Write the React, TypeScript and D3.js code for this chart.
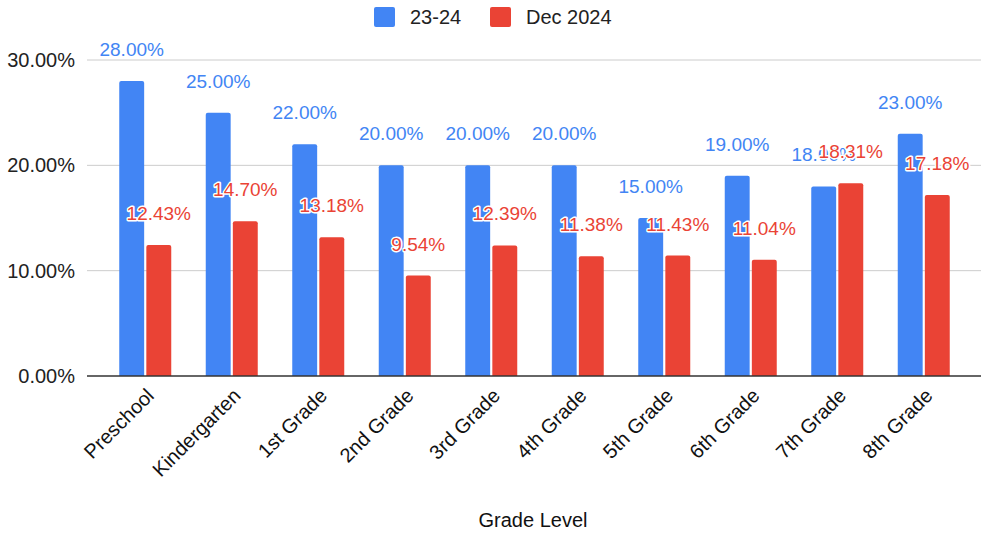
import * as d3 from 'd3';

const grades = ['Preschool', 'Kindergarten', '1st Grade', '2nd Grade', '3rd Grade', '4th Grade', '5th Grade', '6th Grade', '7th Grade', '8th Grade'];
const series = ['23-24', 'Dec 2024'];
const values2324 = [28, 25, 22, 20, 20, 20, 15, 19, 18, 23];
const valuesDec2024 = [12.43, 14.7, 13.18, 9.54, 12.39, 11.38, 11.43, 11.04, 18.31, 17.18];
const yTicks = [0, 10, 20, 30];
const colors = ['#4285F4', '#EA4335'];

const FONT = 'Liberation Sans, Arial, Helvetica, sans-serif';

function topRoundedBar(x: number, y: number, w: number, h: number, r: number) {
    const rr = Math.min(r, h / 2, w / 2);
    return `M${x},${y + h}V${y + rr}Q${x},${y} ${x + rr},${y}H${x + w - rr}Q${x + w},${y} ${x + w},${y + rr}V${y + h}Z`;
}

export default function App() {
    const width = 984,
        height = 534;

    const yScale = d3.scaleLinear().domain([0, 30]).range([376, 60]);
    const xScale = d3.scaleBand().domain(grades).range([102, 967]).paddingInner(0).paddingOuter(0);
    const groupWidth = 52;
    const xSub = d3.scaleBand().domain(series).range([0, groupWidth]).paddingInner(0.08);

    const allSeries = [values2324, valuesDec2024];
    const fmt = (v: number) => v.toFixed(2) + '%';

    return (
        <svg width={width} height={height} style={{ position: 'absolute', left: 0, top: 0 }} fontFamily={FONT}>
            <rect width={width} height={height} fill="#fff" />
            {/* legend */}
            <g>
                <rect x={374} y={7} width={21} height={20} rx={2} fill={colors[0]} />
                <text x={410} y={24} fontSize={20} fill="#222">{series[0]}</text>
                <rect x={490} y={7} width={21} height={20} rx={2} fill={colors[1]} />
                <text x={526} y={24} fontSize={20} fill="#222">{series[1]}</text>
            </g>
            {/* grid + y axis */}
            {yTicks.map((t) => (
                <g key={t}>
                    {t !== 0 && <line x1={87} x2={981} y1={yScale(t)} y2={yScale(t)} stroke="#ccc" strokeWidth={1} />}
                    <text x={75} y={yScale(t) + 7} fontSize={20} textAnchor="end" fill="#222">
                        {t.toFixed(2)}%
                    </text>
                </g>
            ))}
            {/* bars */}
            {grades.map((g, i) => {
                const x0 = (xScale(g) ?? 0) + (xScale.bandwidth() - groupWidth) / 2;
                return (
                    <g key={g}>
                        {allSeries.map((vals, s) => {
                            const bx = x0 + (xSub(series[s]) ?? 0);
                            const by = yScale(vals[i]);
                            return (
                                <path
                                    key={s}
                                    d={topRoundedBar(bx, by, xSub.bandwidth(), yScale(0) - by, 2)}
                                    fill={colors[s]}
                                />
                            );
                        })}
                    </g>
                );
            })}
            <line x1={87} x2={981} y1={yScale(0)} y2={yScale(0)} stroke="#333" strokeWidth={1.5} />
            {/* value labels */}
            {allSeries.map((vals, s) => (
                <g key={s}>
                    {grades.map((g, i) => {
                        const x0 = (xScale(g) ?? 0) + (xScale.bandwidth() - groupWidth) / 2;
                        const cx = x0 + (xSub(series[s]) ?? 0) + xSub.bandwidth() / 2;
                        return (
                            <text
                                key={g}
                                x={cx}
                                y={yScale(vals[i]) - 25}
                                fontSize={19}
                                textAnchor="middle"
                                fill={colors[s]}
                                stroke="#fff"
                                strokeWidth={3}
                                paintOrder="stroke"
                                strokeLinejoin="round"
                            >
                                {fmt(vals[i])}
                            </text>
                        );
                    })}
                </g>
            ))}
            {/* x labels */}
            {grades.map((g) => {
                const cx = (xScale(g) ?? 0) + xScale.bandwidth() / 2;
                return (
                    <text
                        key={g}
                        transform={`translate(${cx + 10},${397}) rotate(-45)`}
                        fontSize={20}
                        textAnchor="end"
                        fill="#111"
                    >
                        {g}
                    </text>
                );
            })}
            <text x={533} y={527} fontSize={20} textAnchor="middle" fill="#111">
                Grade Level
            </text>
        </svg>
    );
}
